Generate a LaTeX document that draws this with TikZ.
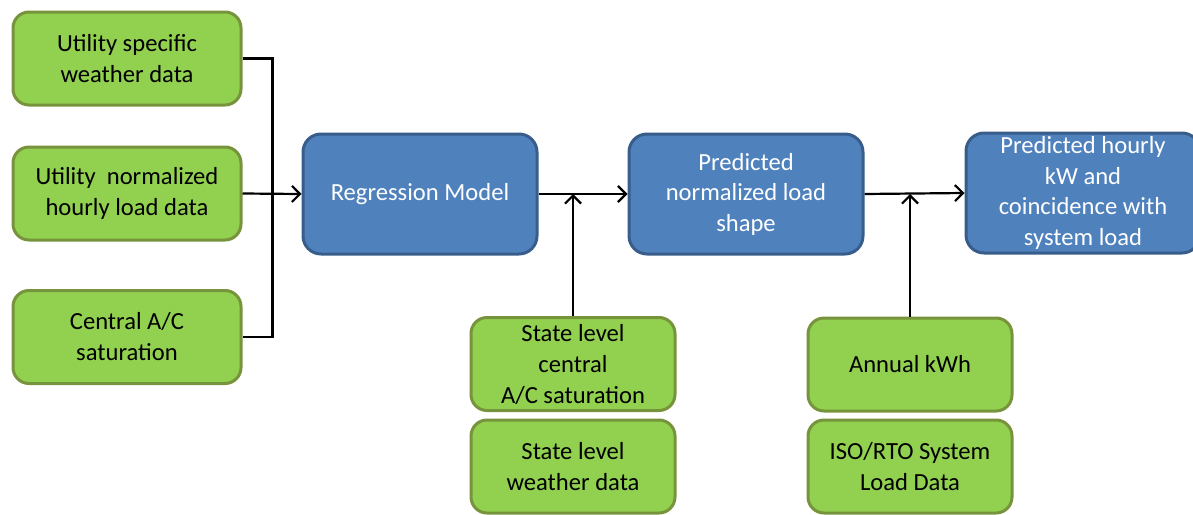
\documentclass[tikz,border=0pt]{standalone}
\usepackage{fontspec}
\setmainfont{Carlito}
\usepackage{xcolor}
\usepackage{tikz}
\usetikzlibrary{arrows.meta}
\definecolor{leaf}{HTML}{92D050}
\definecolor{leafedge}{HTML}{77933C}
\definecolor{sky}{HTML}{4F81BD}
\definecolor{skyedge}{HTML}{385D8A}

\begin{document}
\begin{tikzpicture}[x=1pt,y=-1pt,
    inbox/.style={draw=leafedge, fill=leaf, line width=3pt, rounded corners=16pt,
        minimum width=228pt, minimum height=93pt, align=center,
        font=\fontsize{24.6}{31}\selectfont},
    smallbox/.style={inbox, minimum width=204pt},
    stagebox/.style={draw=skyedge, fill=sky, line width=3pt, rounded corners=18pt,
        minimum width=234pt, minimum height=120pt, align=center, text=white,
        font=\fontsize{24.6}{30.5}\selectfont},
    link/.style={line width=2.2pt},
    tip/.style={-{Straight Barb[length=8pt,width=16pt,line width=2.2pt]}}]
    \useasboundingbox (0,0) rectangle (1193,514);
    % inputs on the left
    \node[inbox] (weather) at (127,58.5) {Utility specific\\weather data};
    \node[inbox] (hourly) at (127,193.5) {Utility~ normalized\\hourly load data};
    \node[inbox] (central) at (127,337) {Central A/C\\saturation};
    % model stages
    \node[stagebox] (regress) at (420,194) {Regression Model};
    \node[stagebox] (shape) at (746,194) {Predicted\\normalized load\\shape};
    \node[stagebox] (result) at (1083,193) {Predicted hourly\\kW and\\coincidence with\\system load};
    % inputs below
    \node[smallbox] (statecac) at (573,364) {State level\\central\\A/C saturation};
    \node[smallbox] (stateweather) at (573,466.5) {State level\\weather data};
    \node[smallbox] (annual) at (910,364.5) {Annual kWh};
    \node[smallbox] (iso) at (910,466.5) {ISO/RTO System\\Load Data};
    % connectors
    \draw[link] (weather.east) -- ++(30,0) |- (central.east);
    \draw[link,tip] (hourly.east) -- (regress.west);
    \draw[link,tip] (regress.east) -- (shape.west);
    \draw[link,tip] (shape.east) -- (result.west);
    \draw[link,tip] (statecac.north) -- (statecac.north |- regress.east);
    \draw[link,tip] (annual.north) -- (annual.north |- shape.east);
\end{tikzpicture}
\end{document}
